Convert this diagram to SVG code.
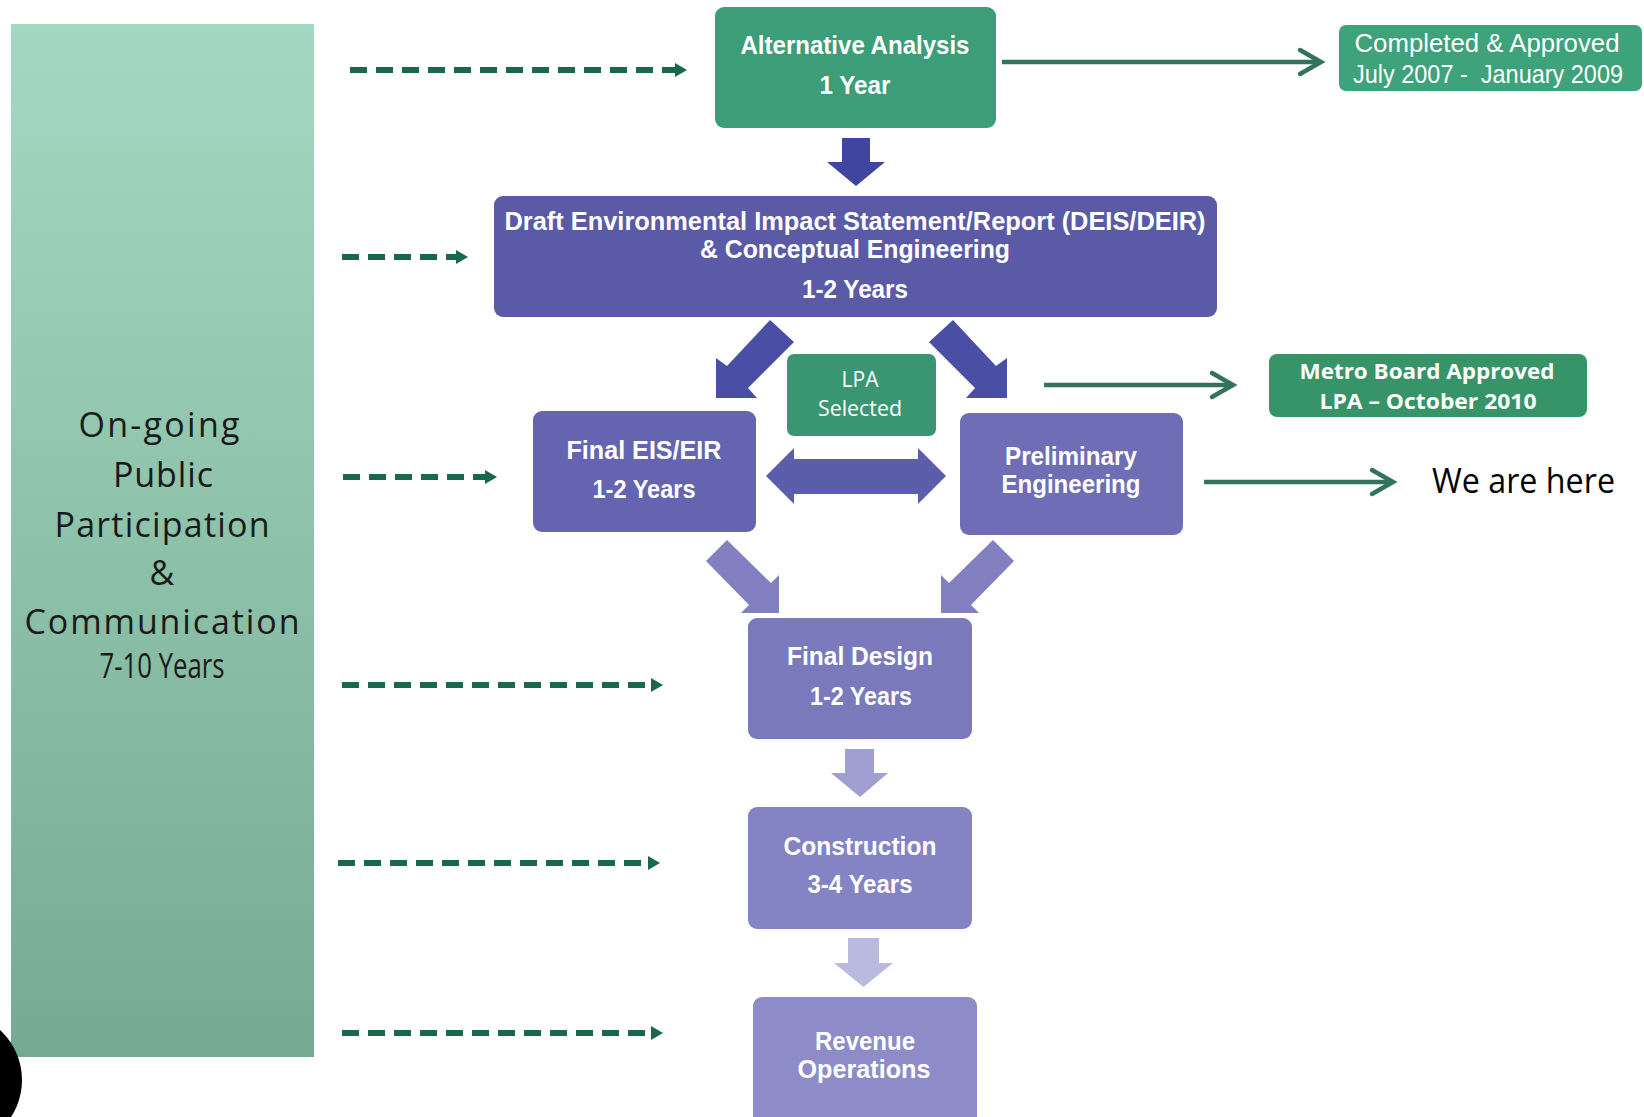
<svg xmlns="http://www.w3.org/2000/svg" width="1644" height="1117" viewBox="0 0 1644 1117">
<defs>
<linearGradient id="panelGrad" x1="0" y1="0" x2="0" y2="1">
<stop offset="0" stop-color="#a4d8c2"/>
<stop offset="1" stop-color="#76ab93"/>
</linearGradient>
<marker id="dashHead" markerUnits="userSpaceOnUse" markerWidth="13" markerHeight="15" refX="0" refY="7" orient="auto" overflow="visible">
<path d="M0,0 L12,7 L0,14 z" fill="#17694a"/>
</marker>
<marker id="chevron" markerUnits="userSpaceOnUse" markerWidth="26" markerHeight="30" refX="21" refY="12" orient="auto" overflow="visible">
<path d="M0,0 L21,12 L0,24" fill="none" stroke="#33735e" stroke-width="4.5" stroke-linecap="round" stroke-linejoin="miter"/>
</marker>
<style>
.dash{stroke:#17694a;stroke-width:6;stroke-dasharray:17 9;fill:none;marker-end:url(#dashHead)}
.solid{stroke:#33735e;stroke-width:4.5;fill:none;marker-end:url(#chevron)}
.bt{font-family:"Liberation Sans Narrow","Liberation Sans",sans-serif;font-weight:bold;fill:#ffffff;text-anchor:middle;font-size:25px}
.nt{font-family:"Liberation Sans Narrow","Liberation Sans",sans-serif;fill:#ffffff;text-anchor:middle;font-size:25px;white-space:pre}
.ct{font-family:"Open Sans","Noto Sans",sans-serif;fill:#ffffff;text-anchor:middle}
.pt{font-family:"Open Sans","Noto Sans",sans-serif;fill:#1a1a1a;text-anchor:middle;font-size:34px}
</style>
</defs>
<rect width="1644" height="1117" fill="#ffffff"/>

<g id="panel">
<rect x="11" y="24" width="303" height="1033" fill="url(#panelGrad)"/>
<text class="pt" x="159" y="437" textLength="161" lengthAdjust="spacing">On-going</text>
<text class="pt" x="163" y="487" textLength="100" lengthAdjust="spacing">Public</text>
<text class="pt" x="162" y="537" textLength="215" lengthAdjust="spacing">Participation</text>
<text class="pt" x="162" y="585">&amp;</text>
<text class="pt" x="162" y="634" textLength="275" lengthAdjust="spacing">Communication</text>
<text class="pt" x="162" y="678" font-size="25" textLength="125" lengthAdjust="spacingAndGlyphs">7-10 Years</text>
</g>

<g id="logo-fragment">
<circle cx="-46" cy="1080" r="68" fill="#000000"/>
</g>

<g id="connectors">
<line class="dash" x1="350" y1="70" x2="675" y2="70"/>
<line class="dash" x1="342" y1="257" x2="456" y2="257"/>
<line class="dash" x1="343" y1="477" x2="485" y2="477"/>
<line class="dash" x1="342" y1="685" x2="651" y2="685"/>
<line class="dash" x1="338" y1="863" x2="648" y2="863"/>
<line class="dash" x1="342" y1="1033" x2="651" y2="1033"/>
<line class="solid" x1="1002" y1="62" x2="1321" y2="62"/>
<line class="solid" x1="1044" y1="385" x2="1233" y2="385"/>
<line class="solid" x1="1204" y1="482" x2="1393" y2="482"/>
<polygon points="842,138 870,138 870,162 885,162 856,186 827,162 842,162" fill="#3e46a0"/>
<polygon points="770,320 794,342 748,388 757,398 716,398 716,358 727,366" fill="#4a4fa5"/>
<polygon points="953,320 929,342 975,388 966,398 1007,398 1007,358 996,366" fill="#4a4fa5"/>
<polygon points="766,476 794,448 794,459 918,459 918,448 946,476 918,504 918,494 794,494 794,504" fill="#5b5caa"/>
<polygon points="727,540 771,583 779,575 779,613 741,613 749,605 706,561" fill="#8280c0"/>
<polygon points="993,540 949,583 941,575 941,613 979,613 971,605 1014,561" fill="#8280c0"/>
<polygon points="845,749 874,749 874,773 888,773 860,797 831,773 845,773" fill="#a09fd2"/>
<polygon points="848,938 879,938 879,963 893,963 863.5,987 834,963 848,963" fill="#bab9e0"/>
</g>

<g id="alternative-analysis">
<rect x="715" y="7" width="281" height="121" rx="9" fill="#3b9e78"/>
<text class="bt" x="855" y="54" textLength="229" lengthAdjust="spacingAndGlyphs">Alternative Analysis</text>
<text class="bt" x="855" y="94" textLength="71" lengthAdjust="spacingAndGlyphs">1 Year</text>
</g>

<g id="completed-approved">
<rect x="1339" y="25" width="303" height="66" rx="7" fill="#3ea27b"/>
<text class="nt" x="1487" y="52" textLength="265" lengthAdjust="spacingAndGlyphs">Completed &amp; Approved</text>
<text class="nt" x="1488" y="83" textLength="270" lengthAdjust="spacingAndGlyphs">July 2007 -  January 2009</text>
</g>

<g id="deis">
<rect x="494" y="196" width="723" height="121" rx="9" fill="#5b5aa7"/>
<text class="bt" x="855" y="230" textLength="701" lengthAdjust="spacingAndGlyphs">Draft Environmental Impact Statement/Report (DEIS/DEIR)</text>
<text class="bt" x="855" y="258" textLength="310" lengthAdjust="spacingAndGlyphs">&amp; Conceptual Engineering</text>
<text class="bt" x="855" y="298" textLength="106" lengthAdjust="spacingAndGlyphs">1-2 Years</text>
</g>

<g id="lpa-selected">
<rect x="787" y="354" width="149" height="82" rx="7" fill="#3a9672"/>
<text class="ct" x="860" y="387" font-size="21">LPA</text>
<text class="ct" x="860" y="416" font-size="21" textLength="84" lengthAdjust="spacingAndGlyphs">Selected</text>
</g>

<g id="metro-board">
<rect x="1269" y="354" width="318" height="63" rx="8" fill="#369468"/>
<text class="ct" x="1427" y="379" font-size="22" font-weight="bold" textLength="255" lengthAdjust="spacingAndGlyphs">Metro Board Approved</text>
<text class="ct" x="1428" y="409" font-size="22" font-weight="bold" textLength="217" lengthAdjust="spacingAndGlyphs">LPA – October 2010</text>
</g>

<g id="final-eis">
<rect x="533" y="411" width="223" height="121" rx="9" fill="#6464b0"/>
<text class="bt" x="644" y="459" textLength="155" lengthAdjust="spacingAndGlyphs">Final EIS/EIR</text>
<text class="bt" x="644" y="498" textLength="103" lengthAdjust="spacingAndGlyphs">1-2 Years</text>
</g>

<g id="preliminary-engineering">
<rect x="960" y="413" width="223" height="122" rx="9" fill="#6e6db5"/>
<text class="bt" x="1071" y="465" textLength="132" lengthAdjust="spacingAndGlyphs">Preliminary</text>
<text class="bt" x="1071" y="493" textLength="139" lengthAdjust="spacingAndGlyphs">Engineering</text>
</g>

<g id="we-are-here">
<text x="1432" y="493" font-family="'Open Sans','Noto Sans',sans-serif" font-size="35" fill="#000000" textLength="183" lengthAdjust="spacingAndGlyphs">We are here</text>
</g>

<g id="final-design">
<rect x="748" y="618" width="224" height="121" rx="9" fill="#7a79bc"/>
<text class="bt" x="860" y="665" textLength="146" lengthAdjust="spacingAndGlyphs">Final Design</text>
<text class="bt" x="861" y="705" textLength="102" lengthAdjust="spacingAndGlyphs">1-2 Years</text>
</g>

<g id="construction">
<rect x="748" y="807" width="224" height="122" rx="9" fill="#8483c3"/>
<text class="bt" x="860" y="855" textLength="153" lengthAdjust="spacingAndGlyphs">Construction</text>
<text class="bt" x="860" y="893" textLength="105" lengthAdjust="spacingAndGlyphs">3-4 Years</text>
</g>

<g id="revenue-operations">
<rect x="753" y="997" width="224" height="135" rx="9" fill="#8d8cc8"/>
<text class="bt" x="865" y="1050" textLength="100" lengthAdjust="spacingAndGlyphs">Revenue</text>
<text class="bt" x="864" y="1078" textLength="133" lengthAdjust="spacingAndGlyphs">Operations</text>
</g>
</svg>
